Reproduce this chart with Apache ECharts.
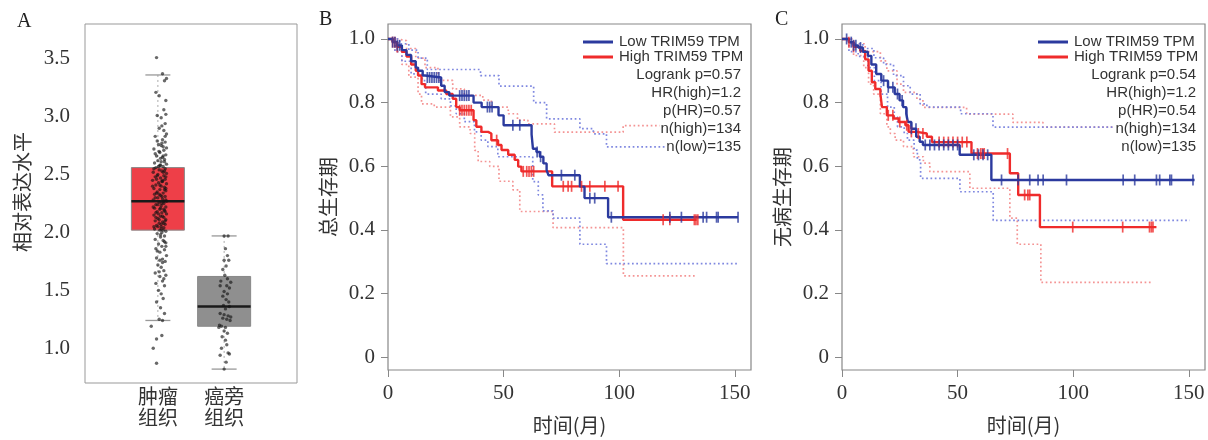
<!DOCTYPE html>
<html>
<head>
<meta charset="utf-8">
<script src="https://cdn.jsdelivr.net/npm/echarts@6/dist/echarts.min.js"></script>
<style>
  html, body { margin: 0; padding: 0; background: #fff; }
  #main { width: 1208px; height: 440px; }
</style>
</head>
<body>
<div id="main"></div>
<script>
// ---- panel A: expression boxplot ----
const boxCats = ["肿瘤\n组织", "癌旁\n组织"];
// [x, low whisker, q1, median, q3, high whisker]
const boxData = [
  [1, 1.24, 2.02, 2.27, 2.56, 3.36],
  [2, 0.82, 1.19, 1.36, 1.62, 1.97],
];
const boxColors = ["#EE3F48", "#8F8F8F"];
// jittered points: [x offset, value]
const tumorDots = [
  [-0.02,3.51],[0.07,3.37],[0.13,3.33],[0.10,3.31],[-0.03,3.21],[0.02,3.18],[0.12,3.14],[0.09,3.06],
  [-0.01,3.01],[0.12,3.02],[0.05,2.99],[0.11,2.94],[0.02,2.90],[0.09,2.88],[0.13,2.85],[-0.04,2.83],
  [0.07,2.80],[0.11,2.78],[0.01,2.76],[0.05,2.75],[0.13,2.73],[-0.06,2.72],[0.09,2.71],[0.03,2.69],
  [0.12,2.67],[-0.02,2.66],[0.07,2.65],[0.10,2.63],[0.00,2.62],[0.05,2.61],[-0.05,2.60],[0.13,2.59],
  [0.03,2.58],[0.08,2.57],[-0.03,2.56],[0.11,2.55],[0.02,2.54],[0.06,2.53],[-0.07,2.52],[0.13,2.51],
  [0.00,2.50],[0.09,2.49],[-0.04,2.48],[0.04,2.47],[0.11,2.46],[-0.08,2.45],[0.07,2.44],[0.01,2.43],
  [0.13,2.42],[-0.03,2.41],[0.05,2.40],[0.10,2.39],[-0.06,2.38],[0.03,2.37],[0.12,2.36],[-0.01,2.35],
  [0.08,2.34],[-0.05,2.33],[0.04,2.32],[0.11,2.31],[0.00,2.30],[0.07,2.29],[-0.07,2.28],[0.13,2.27],
  [0.02,2.26],[0.09,2.25],[-0.03,2.24],[0.05,2.23],[0.12,2.22],[-0.05,2.21],[0.03,2.20],[0.10,2.19],
  [-0.01,2.18],[0.06,2.17],[0.13,2.16],[-0.06,2.15],[0.04,2.14],[0.09,2.13],[0.00,2.12],[0.12,2.11],
  [-0.04,2.10],[0.07,2.09],[0.02,2.08],[0.11,2.07],[-0.02,2.06],[0.05,2.05],[0.09,2.04],[-0.05,2.03],
  [0.03,2.02],[0.12,2.01],[0.06,2.00],[-0.01,1.99],[0.10,1.97],[0.04,1.96],[-0.04,1.94],[0.08,1.93],
  [0.12,1.91],[0.01,1.90],[0.06,1.88],[-0.03,1.86],[0.10,1.85],[0.03,1.83],[0.13,1.80],[-0.02,1.78],
  [0.07,1.77],[0.11,1.75],[0.00,1.72],[0.05,1.70],[0.09,1.67],[-0.04,1.65],[0.12,1.63],[0.03,1.62],
  [0.07,1.58],[-0.03,1.56],[0.10,1.54],[0.01,1.50],[0.05,1.47],[0.08,1.43],[-0.02,1.40],[0.04,1.35],
  [0.10,1.30],[0.02,1.25],[0.07,1.24],[-0.10,1.19],[0.06,1.11],[-0.02,1.08],[-0.07,1.00],[-0.02,0.87],
  [0.04,2.58],[-0.06,2.55],[0.08,2.52],[0.12,2.48],[-0.02,2.46],[0.06,2.44],[-0.08,2.40],[0.10,2.37],
  [0.02,2.33],[-0.04,2.30],[0.12,2.28],[0.06,2.25],[-0.07,2.22],[0.09,2.20],[0.01,2.16],[-0.03,2.13],
  [0.11,2.10],[0.05,2.07],[-0.06,2.05],[0.08,2.02],[0.02,2.70],[0.08,2.74],[-0.01,2.79],[0.11,2.83],
  [0.06,2.92],[0.04,1.98],[0.10,1.92],[-0.01,1.84],[0.07,1.74],[0.02,1.66],[0.09,1.60],[0.12,1.88],
  [0.03,1.76],[0.01,2.57],[0.10,2.53],[-0.01,2.49],[0.07,2.45],[0.03,2.41],[0.12,2.38],[-0.02,2.34],
  [0.06,2.31],[0.09,2.27],[0.00,2.24],[0.04,2.21],[0.11,2.18],[-0.03,2.17],[0.07,2.14],[0.02,2.11],
  [0.09,2.08],[0.00,2.05],[0.05,2.03],[0.08,2.66],[0.04,2.64],[0.10,2.61],[-0.04,2.68],[0.06,2.77]
];
const normalDots = [
  [0.00,1.97],[0.06,1.97],[0.02,1.86],[0.05,1.80],[0.00,1.76],[0.07,1.76],[0.03,1.71],[-0.02,1.68],
  [0.01,1.63],[0.05,1.60],[-0.05,1.58],[0.10,1.57],[0.04,1.54],[-0.06,1.54],[0.08,1.52],[0.00,1.49],
  [0.05,1.47],[-0.02,1.45],[0.03,1.42],[0.07,1.40],[-0.01,1.37],[0.08,1.36],[0.02,1.34],[-0.06,1.30],
  [0.00,1.29],[0.06,1.28],[0.10,1.27],[-0.02,1.26],[0.04,1.25],[0.09,1.24],[-0.07,1.20],[-0.04,1.19],
  [0.02,1.18],[-0.08,1.18],[0.00,1.15],[0.05,1.13],[-0.03,1.10],[0.02,1.07],[0.04,1.03],[-0.04,1.00],
  [0.06,0.96],[0.08,0.95],[-0.06,0.94],[0.03,0.88],[0.00,0.82]
];
const exprTicks = [1.0, 1.5, 2.0, 2.5, 3.0, 3.5];

// ---- panel B: overall survival, [month, survival] ----
const lowOS = [[0,1],[2,0.99],[4,0.98],[6,0.965],[8,0.95],[10,0.93],[12,0.91],[13,0.9],[15,0.885],[16,0.879],
  [23,0.853],[24.5,0.833],[26.5,0.822],[37,0.80],[40.5,0.786],[47.8,0.76],[50,0.729],[62.1,0.70],[62.7,0.655],
  [64.2,0.645],[65.7,0.63],[67.2,0.609],[68.6,0.588],[69.4,0.572],[83,0.536],[85,0.50],[95.2,0.44],[151.4,0.44]];
const highOS = [[0,1],[2,0.99],[4,0.975],[6,0.96],[8,0.945],[10,0.92],[12,0.90],[13,0.885],[14.5,0.858],[16,0.848],
  [21.6,0.838],[25.2,0.827],[28,0.812],[29.5,0.786],[31,0.776],[37,0.745],[38.2,0.724],[40.4,0.708],[43.3,0.703],
  [44.7,0.682],[47.6,0.667],[49.1,0.651],[52,0.636],[54.8,0.62],[56.3,0.599],[57.7,0.584],[71,0.537],[101.7,0.432],[133.5,0.432]];
const lowOSUp = [[0,1],[5,0.985],[9,0.965],[13,0.94],[17,0.904],[40,0.885],[48,0.852],[63,0.80],[68.6,0.749],
  [83,0.718],[88.8,0.702],[94.5,0.661],[151.4,0.661]];
const lowOSLo = [[0,1],[3,0.96],[6,0.93],[10,0.89],[14.8,0.869],[16.3,0.827],[23,0.812],[27,0.79],[29.5,0.765],
  [33,0.74],[37.4,0.708],[40.3,0.682],[43.2,0.662],[47.5,0.63],[62.6,0.552],[65,0.51],[67,0.46],[71.4,0.437],
  [83,0.355],[94.5,0.294],[151.4,0.294]];
const highOSUp = [[0,1],[4,0.995],[8,0.97],[12,0.94],[16,0.91],[21.6,0.87],[28,0.843],[33,0.823],[41,0.808],
  [44.7,0.786],[52,0.765],[56,0.745],[60.5,0.733],[72,0.707],[101.7,0.728],[133.5,0.728]];
const highOSLo = [[0,1],[3,0.96],[6,0.92],[9,0.88],[13,0.827],[14.5,0.796],[20,0.786],[27,0.755],[31,0.724],
  [35.5,0.703],[37.5,0.65],[39,0.615],[44,0.60],[48,0.553],[54,0.526],[57,0.458],[71.4,0.407],[101.8,0.256],[133.5,0.256]];
const lowOSCens = [2,3,4,5,17,18,19,20,21,22,31,32,33,34,35,43,44,45,54,57,64.5,66,75,80.8,87.3,89.4,96.6,
  121.9,126.9,136.3,137.8,142.1,142.8,151.4];
const highOSCens = [2,3,4,31,32,33,34,35,36,47,58.5,60,61,62,63,75.8,77.9,79.4,83.7,87.3,93.8,99.5,119,121.9,
  132.5,133.2,134];

// ---- panel C: disease-free survival ----
const lowDFS = [[0,1],[3,0.99],[5,0.98],[7,0.973],[9,0.96],[11.2,0.947],[12.7,0.92],[14.8,0.89],[17,0.869],
  [19.9,0.848],[22.8,0.827],[24.9,0.807],[26.4,0.786],[27.8,0.765],[28.5,0.739],[30,0.718],[32.1,0.693],
  [33.6,0.677],[35,0.667],[50.9,0.636],[64.6,0.557],[152.5,0.557]];
const highDFS = [[0,1],[3,0.99],[5,0.975],[7.9,0.962],[10,0.936],[11.5,0.90],[12.9,0.864],[14.4,0.843],[16.6,0.827],
  [17.3,0.786],[19.4,0.76],[22.3,0.75],[24.5,0.739],[27.4,0.729],[28.8,0.708],[32.4,0.703],[36.7,0.693],[38.9,0.676],
  [56,0.64],[72.6,0.578],[76.2,0.51],[85.6,0.409],[136,0.409]];
const lowDFSUp = [[0,1],[4,0.985],[9,0.97],[13.8,0.941],[18,0.92],[22.3,0.885],[26.6,0.853],[29.5,0.827],
  [33.8,0.796],[36.7,0.786],[51.3,0.765],[65.3,0.723],[152.5,0.723]];
const lowDFSLo = [[0,1],[3,0.96],[7,0.945],[11.2,0.91],[14,0.869],[16.9,0.827],[19.7,0.786],[22.6,0.755],[24,0.724],
  [26.9,0.703],[28.3,0.682],[31.2,0.651],[32.6,0.62],[34,0.562],[51,0.52],[65.4,0.43],[150.4,0.43]];
const highDFSUp = [[0,1],[5,0.985],[10,0.96],[16.6,0.931],[19.4,0.90],[23.8,0.858],[26.6,0.832],[32.4,0.81],
  [35,0.785],[53.9,0.764],[73.9,0.738],[86.9,0.723],[136,0.723]];
const highDFSLo = [[0,1],[5,0.948],[9.4,0.91],[11.5,0.858],[13.7,0.827],[16.6,0.765],[19.4,0.724],[20.9,0.703],
  [23,0.682],[26.6,0.662],[30.9,0.63],[35.2,0.61],[38,0.583],[55.3,0.531],[72.6,0.437],[75.8,0.355],[86,0.235],[134.5,0.235]];
const lowDFSCens = [2,4,5,6,8,18,20,22,24,26,28,30,32,36,38,40,42,44,46,48,50,57,59,61,63,69,76.2,81.2,84.8,87,
  97.1,121.6,126.6,136,137.4,141.8,142.5,151.8];
const highDFSCens = [3,5,20,22,25,28,30,33,35,42,44,46,48,50,52,54,58.6,60,60.8,61.5,71.6,79,80.4,81.2,99.8,
  121.4,133,133.8,134.5];

const monthTicks = [0, 50, 100, 150];
const survTicks = [0, 0.2, 0.4, 0.6, 0.8, 1.0];
const statsOS = ["Logrank p=0.57", "HR(high)=1.2", "p(HR)=0.57", "n(high)=134", "n(low)=135"];
const statsDFS = ["Logrank p=0.54", "HR(high)=1.2", "p(HR)=0.54", "n(high)=134", "n(low)=135"];

const BLUE = "#2B3A9E", RED = "#EF2B2B", BLUE_CI = "#7F88E0", RED_CI = "#F49494";
const SERIF = "'Liberation Serif','DejaVu Serif',serif";
const SANS = "'Liberation Sans',Arial,sans-serif";
const CJK = "'Noto Sans CJK SC','Noto Sans',sans-serif";

const myChart = echarts.init(document.getElementById("main"));

// survival value at time t from a step curve
function survAt(curve, t) {
  let s = curve[0][1];
  curve.forEach((p) => { if (p[0] <= t) s = p[1]; });
  return s;
}

function renderBox(params, api) {
  const x = api.value(0);
  const lo = api.coord([x, api.value(1)]);
  const q1 = api.coord([x, api.value(2)]);
  const md = api.coord([x, api.value(3)]);
  const q3 = api.coord([x, api.value(4)]);
  const hi = api.coord([x, api.value(5)]);
  const cx = md[0], bw = 53, cw = 25;
  return {
    type: "group",
    children: [
      { type: "line", shape: { x1: cx, y1: hi[1], x2: cx, y2: lo[1] }, style: { stroke: "#aaa", lineWidth: 1, lineDash: [2, 3] } },
      { type: "line", shape: { x1: cx - cw / 2, y1: hi[1], x2: cx + cw / 2, y2: hi[1] }, style: { stroke: "#999", lineWidth: 1.3 } },
      { type: "line", shape: { x1: cx - cw / 2, y1: lo[1], x2: cx + cw / 2, y2: lo[1] }, style: { stroke: "#999", lineWidth: 1.3 } },
      { type: "rect", shape: { x: cx - bw / 2, y: q3[1], width: bw, height: q1[1] - q3[1] }, style: { fill: boxColors[params.dataIndex], stroke: "#888", lineWidth: 1 } },
      { type: "line", shape: { x1: cx - bw / 2, y1: md[1], x2: cx + bw / 2, y2: md[1] }, style: { stroke: "#1a1a1a", lineWidth: 2.5 } },
    ],
  };
}

function kmSeries(idx, curve, cens, up, lo, color, ciColor) {
  const base = { xAxisIndex: idx, yAxisIndex: idx, silent: true, animation: false };
  const ci = (d) => Object.assign({}, base, {
    type: "line", step: "end", data: d, showSymbol: false, z: 2,
    lineStyle: { color: ciColor, width: 1.7, type: [1.7, 2.6] },
  });
  return [
    ci(up), ci(lo),
    Object.assign({}, base, {
      type: "line", step: "end", data: curve, showSymbol: false, z: 3,
      lineStyle: { color: color, width: 2.4 },
    }),
    Object.assign({}, base, {
      type: "scatter", data: cens.map((t) => [t, survAt(curve, t)]), z: 4,
      symbol: "rect", symbolSize: [1.7, 11], itemStyle: { color: color },
    }),
  ];
}

const yLabel = (v) => (v === 0 ? "0" : v.toFixed(1));
const kmXAxis = (idx) => ({
  gridIndex: idx, type: "value", min: 0, max: 157,
  axisLine: { show: false, onZero: false },
  axisTick: { show: true, length: 7, customValues: monthTicks, lineStyle: { color: "#888" } },
  axisLabel: { customValues: monthTicks, fontSize: 21, fontFamily: SERIF, color: "#333", margin: 13 },
  splitLine: { show: false },
  name: "时间(月)", nameLocation: "middle", nameGap: 45,
  nameTextStyle: { fontSize: 20, fontFamily: CJK, color: "#333" },
});
const kmYAxis = (idx, name) => ({
  gridIndex: idx, type: "value", min: -0.04, max: 1.047,
  axisLine: { show: false },
  axisTick: { show: true, length: 7, customValues: survTicks, lineStyle: { color: "#888" } },
  axisLabel: { customValues: survTicks, formatter: yLabel, fontSize: 21, fontFamily: SERIF, color: "#333", margin: 13 },
  splitLine: { show: false },
  name: name, nameLocation: "middle", nameGap: 50, nameRotate: 90,
  nameTextStyle: { fontSize: 20, fontFamily: CJK, color: "#333" },
});

// legend for a KM panel
function kmNotes(left) {
  const items = [];
  [[BLUE, "Low TRIM59 TPM", 42], [RED, "High TRIM59 TPM", 57]].forEach((l) => {
    items.push({ type: "line", z: 100, shape: { x1: left, y1: l[2], x2: left + 30, y2: l[2] }, style: { stroke: l[0], lineWidth: 3 } });
    items.push({ type: "text", z: 100, x: left + 36, y: l[2], style: { text: l[1], fontSize: 15, fontFamily: SANS, fill: "#333", verticalAlign: "middle" } });
  });
  return items;
}
// stats lines, right aligned, masking the lines beneath
function kmStats(right, lines) {
  const ys = [75, 93, 111, 129.3, 147.3];
  return lines.map((t, i) => ({
    type: "text", z: 100, x: right, y: ys[i],
    style: { text: t, fontSize: 15, fontFamily: SANS, fill: "#333", align: "right", verticalAlign: "middle", backgroundColor: "#fff", padding: [0, 1] },
  }));
}

const option = {
  animation: false,
  grid: [
    { left: 85, top: 24, width: 212, height: 359, show: true, borderColor: "#999", borderWidth: 1 },
    { left: 388, top: 24, width: 363, height: 349, show: true, borderColor: "#888", borderWidth: 1.2 },
    { left: 842, top: 24, width: 363, height: 349, show: true, borderColor: "#888", borderWidth: 1.2 },
  ],
  xAxis: [
    {
      gridIndex: 0, type: "value", min: -0.1, max: 3.1,
      axisLine: { show: false }, axisTick: { show: false }, splitLine: { show: false },
      axisLabel: { customValues: [1, 2], formatter: (v) => boxCats[v - 1], fontSize: 20, lineHeight: 21, fontFamily: CJK, color: "#333", margin: 3 },
    },
    kmXAxis(1),
    kmXAxis(2),
  ],
  yAxis: [
    {
      gridIndex: 0, type: "value", min: 0.7, max: 3.8,
      axisLine: { show: false }, axisTick: { show: false }, splitLine: { show: false },
      axisLabel: { customValues: exprTicks, formatter: (v) => v.toFixed(1), fontSize: 21, fontFamily: SERIF, color: "#333", margin: 15 },
    },
    kmYAxis(1, "总生存期"),
    kmYAxis(2, "无病生存期"),
  ],
  series: [
    { type: "custom", xAxisIndex: 0, yAxisIndex: 0, data: boxData, renderItem: renderBox, z: 2 },
    {
      type: "scatter", xAxisIndex: 0, yAxisIndex: 0, z: 3, symbolSize: 3.4,
      data: tumorDots.map((d) => [1 + d[0], d[1]]).concat(normalDots.map((d) => [2 + d[0], d[1]])),
      itemStyle: { color: "rgba(20,20,20,0.8)" },
    },
    ...kmSeries(1, highOS, highOSCens, highOSUp, highOSLo, RED, RED_CI),
    ...kmSeries(1, lowOS, lowOSCens, lowOSUp, lowOSLo, BLUE, BLUE_CI),
    ...kmSeries(2, highDFS, highDFSCens, highDFSUp, highDFSLo, RED, RED_CI),
    ...kmSeries(2, lowDFS, lowDFSCens, lowDFSUp, lowDFSLo, BLUE, BLUE_CI),
  ],
  graphic: [
    { type: "text", x: 17, y: 12, style: { text: "A", fontSize: 20, fontFamily: SERIF, fill: "#222" } },
    { type: "text", x: 319, y: 10, style: { text: "B", fontSize: 20, fontFamily: SERIF, fill: "#222" } },
    { type: "text", x: 775, y: 10, style: { text: "C", fontSize: 20, fontFamily: SERIF, fill: "#222" } },
    { type: "text", x: 22, y: 192, rotation: Math.PI / 2, style: { text: "相对表达水平", fontSize: 20, fontFamily: CJK, fill: "#333", align: "center", verticalAlign: "middle" } },
    ...kmNotes(583),
    ...kmNotes(1038),
    ...kmStats(742, statsOS),
    ...kmStats(1197, statsDFS),
  ],
};

myChart.setOption(option);
window.addEventListener("resize", () => myChart.resize());
</script>
</body>
</html>
